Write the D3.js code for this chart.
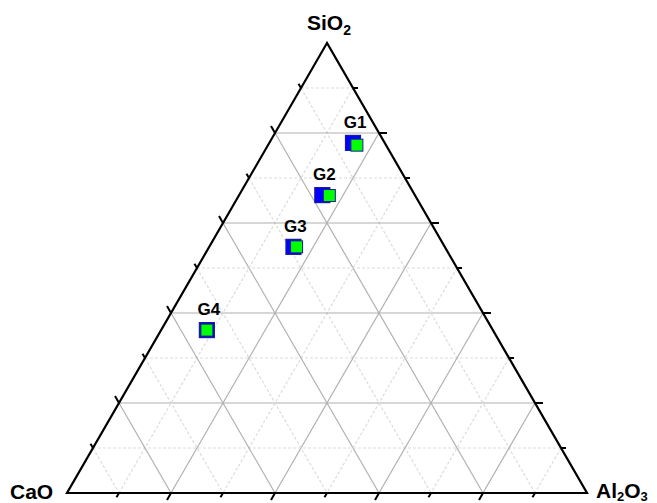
<!DOCTYPE html>
<html>
<head>
<meta charset="utf-8">
<style>
  body { margin: 0; background: #fff; }
  text { font-family: "Liberation Sans", Arial, sans-serif; font-weight: bold; fill: #000; }
</style>
</head>
<body>
<script src="https://cdn.jsdelivr.net/npm/d3@7"></script>
<script>
var width = 657, height = 503;

// compositions in wt% (SiO2 at top, CaO bottom-left, Al2O3 bottom-right)
var samples = ["G1", "G2", "G3", "G4"];
var sio2Blue = [77.8, 66.2, 54.7, 36.2];
var caoBlue = [6.1, 17.8, 29.1, 55.0];
var al2o3Blue = [16.1, 16.0, 16.2, 8.8];
var sio2Green = [77.3, 66.1, 54.7, 36.2];
var caoGreen = [5.6, 16.5, 28.5, 55.0];
var al2o3Green = [17.1, 17.4, 16.8, 8.8];
var gridSteps = [10, 20, 30, 40, 50, 60, 70, 80, 90];

var svg = d3.select("body").append("svg")
    .attr("width", width)
    .attr("height", height);

// horizontal position from (Al2O3 + SiO2/2), vertical from SiO2
var x = d3.scaleLinear().domain([0, 100]).range([67, 587]);
var y = d3.scaleLinear().domain([0, 100]).range([493, 43]);

function px(t, l, r) {
    var s = t + l + r;
    return x((r + t / 2) * 100 / s);
}
function py(t, l, r) {
    var s = t + l + r;
    return y(t * 100 / s);
}

// grid
var grid = svg.append("g");
gridSteps.forEach(function(v) {
    var major = v % 20 === 0;
    var segs = [
        [[v, 100 - v, 0], [v, 0, 100 - v]],   // constant SiO2
        [[100 - v, v, 0], [0, v, 100 - v]],   // constant CaO
        [[100 - v, 0, v], [0, 100 - v, v]]    // constant Al2O3
    ];
    segs.forEach(function(s) {
        grid.append("line")
            .attr("x1", px.apply(null, s[0])).attr("y1", py.apply(null, s[0]))
            .attr("x2", px.apply(null, s[1])).attr("y2", py.apply(null, s[1]))
            .attr("stroke", major ? "#b0b0b0" : "#dcdcdc")
            .attr("stroke-width", 1.2)
            .attr("stroke-dasharray", major ? null : "3,2");
    });
});

// frame
var A = [x(50), y(100)], B = [x(0), y(0)], C = [x(100), y(0)];
svg.append("path")
    .attr("d", "M" + A + "L" + B + "L" + C + "Z")
    .attr("fill", "none")
    .attr("stroke", "#000")
    .attr("stroke-width", 2.2);

// ticks
var ticks = svg.append("g").attr("stroke", "#000").attr("stroke-width", 2);
gridSteps.forEach(function(v) {
    var len = v % 20 === 0 ? 8 : 5;
    var pts = [
        { p: [v, 100 - v, 0], d: [-0.5, -0.866] },  // left edge
        { p: [0, 100 - v, v], d: [-0.5, 0.866] },   // bottom edge
        { p: [100 - v, 0, v], d: [1, 0] }           // right edge
    ];
    pts.forEach(function(t) {
        var x0 = px.apply(null, t.p), y0 = py.apply(null, t.p);
        ticks.append("line")
            .attr("x1", x0).attr("y1", y0)
            .attr("x2", x0 + t.d[0] * len).attr("y2", y0 + t.d[1] * len);
    });
});

// vertex labels
var labTop = svg.append("text").attr("x", 307).attr("y", 30).style("font-size", "21px");
labTop.append("tspan").text("SiO");
labTop.append("tspan").text("2").attr("dy", 5).style("font-size", "14px");

var labLeft = svg.append("text").attr("x", 10).attr("y", 499).style("font-size", "21px");
labLeft.text("CaO");

var labRight = svg.append("text").attr("x", 596).attr("y", 498).style("font-size", "21px");
labRight.append("tspan").text("Al");
labRight.append("tspan").text("2").attr("dy", 3).style("font-size", "13px");
labRight.append("tspan").text("O").attr("dy", -3);
labRight.append("tspan").text("3").attr("dy", 3).style("font-size", "13px");

// points
var size = 15;
svg.append("g").selectAll("rect")
    .data(samples)
    .enter().append("rect")
    .attr("x", function(d, i) { return px(sio2Blue[i], caoBlue[i], al2o3Blue[i]) - size / 2; })
    .attr("y", function(d, i) { return py(sio2Blue[i], caoBlue[i], al2o3Blue[i]) - size / 2; })
    .attr("width", size).attr("height", size)
    .attr("fill", "#0000ff")
    .attr("stroke", "#1a1a9a")
    .attr("stroke-width", 1.2);

svg.append("g").selectAll("rect")
    .data(samples)
    .enter().append("rect")
    .attr("x", function(d, i) { return px(sio2Green[i], caoGreen[i], al2o3Green[i]) - size / 2 + 1.5; })
    .attr("y", function(d, i) { return py(sio2Green[i], caoGreen[i], al2o3Green[i]) - size / 2 + 1.5; })
    .attr("width", size - 3).attr("height", size - 3)
    .attr("fill", "#00ff00")
    .attr("stroke", "#1a1a9a")
    .attr("stroke-width", 1);

svg.append("g").selectAll("text")
    .data(samples)
    .enter().append("text")
    .attr("x", function(d, i) { return px(sio2Blue[i], caoBlue[i], al2o3Blue[i]) + 2; })
    .attr("y", function(d, i) { return py(sio2Blue[i], caoBlue[i], al2o3Blue[i]) - 15; })
    .attr("text-anchor", "middle")
    .style("font-size", "17px")
    .text(function(d) { return d; });
</script>
</body>
</html>
